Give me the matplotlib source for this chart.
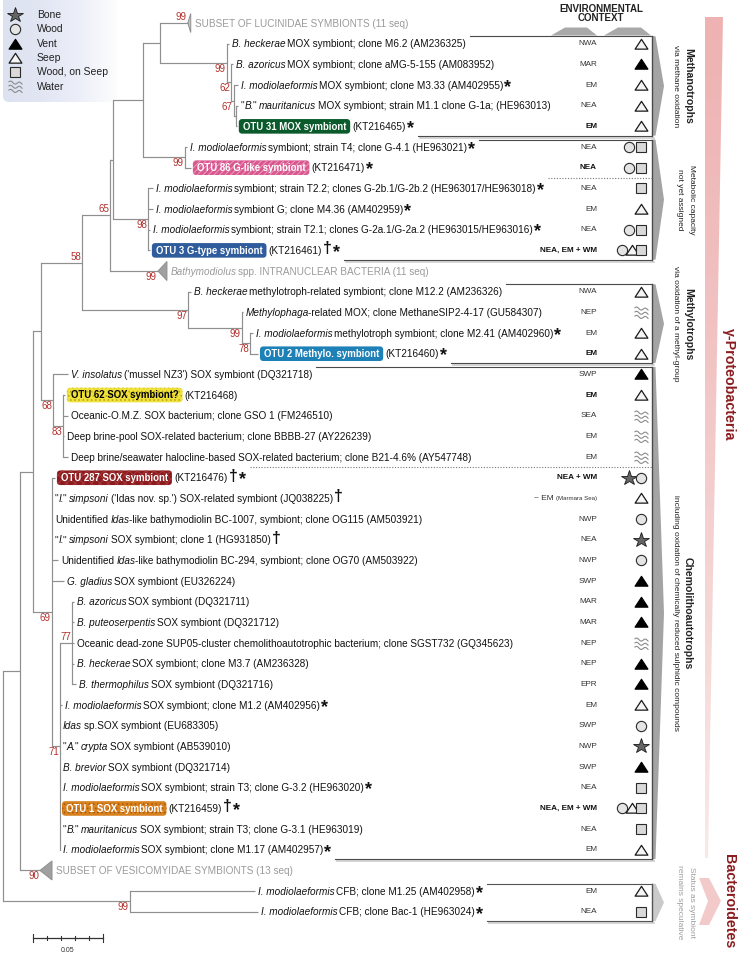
import numpy as np
import matplotlib
matplotlib.use("Agg")
import matplotlib.pyplot as plt
from matplotlib.path import Path
from matplotlib.patches import Polygon, FancyBboxPatch
from matplotlib.colors import LinearSegmentedColormap
from matplotlib.transforms import blended_transform_factory

plt.rcParams['font.family'] = ['Liberation Sans', 'DejaVu Sans']
plt.rcParams['hatch.linewidth'] = 0.7

# ------------------------------------------------------------------ data
leaf_labels = [
    "SUBSET OF LUCINIDAE SYMBIONTS (11 seq)",
    "_B. heckerae_ MOX symbiont; clone M6.2 (AM236325)",
    "_B. azoricus_ MOX symbiont; clone aMG-5-155 (AM083952)",
    "_I. modiolaeformis_ MOX symbiont; clone M3.33 (AM402955)",
    "\"_B._\" _mauritanicus_ MOX symbiont; strain M1.1 clone G-1a; (HE963013)",
    "(KT216465)",
    "_I. modiolaeformis_ symbiont; strain T4; clone G-4.1 (HE963021)",
    "(KT216471)",
    "_I. modiolaeformis_ symbiont; strain T2.2; clones G-2b.1/G-2b.2 (HE963017/HE963018)",
    "_I. modiolaeformis_ symbiont G; clone M4.36 (AM402959)",
    "_I. modiolaeformis_ symbiont; strain T2.1; clones G-2a.1/G-2a.2 (HE963015/HE963016)",
    "(KT216461)",
    "_Bathymodiolus_ spp. INTRANUCLEAR BACTERIA (11 seq)",
    "_B. heckerae_ methylotroph-related symbiont; clone M12.2 (AM236326)",
    "_Methylophaga_-related MOX; clone MethaneSIP2-4-17 (GU584307)",
    "_I. modiolaeformis_ methylotroph symbiont; clone M2.41 (AM402960)",
    "(KT216460)",
    "_V. insolatus_ ('mussel NZ3') SOX symbiont (DQ321718)",
    "(KT216468)",
    "Oceanic-O.M.Z. SOX bacterium; clone GSO 1 (FM246510)",
    "Deep brine-pool SOX-related bacterium; clone BBBB-27 (AY226239)",
    "Deep brine/seawater halocline-based SOX-related bacterium; clone B21-4.6% (AY547748)",
    "(KT216476)",
    "\"_I._\" _simpsoni_ ('Idas nov. sp.') SOX-related symbiont (JQ038225)",
    "Unidentified _Idas_-like bathymodiolin BC-1007, symbiont; clone OG115 (AM503921)",
    "\"_I._\" _simpsoni_ SOX symbiont; clone 1 (HG931850)",
    "Unidentified _Idas_-like bathymodiolin BC-294, symbiont; clone OG70 (AM503922)",
    "_G. gladius_ SOX symbiont (EU326224)",
    "_B. azoricus_ SOX symbiont (DQ321711)",
    "_B. puteoserpentis_ SOX symbiont (DQ321712)",
    "Oceanic dead-zone SUP05-cluster chemolithoautotrophic bacterium; clone SGST732 (GQ345623)",
    "_B. heckerae_ SOX symbiont; clone M3.7 (AM236328)",
    "_B. thermophilus_ SOX symbiont (DQ321716)",
    "_I. modiolaeformis_ SOX symbiont; clone M1.2 (AM402956)",
    "_Idas_ sp.SOX symbiont (EU683305)",
    "\"_A._\" _crypta_ SOX symbiont (AB539010)",
    "_B. brevior_ SOX symbiont (DQ321714)",
    "_I. modiolaeformis_ SOX symbiont; strain T3; clone G-3.2 (HE963020)",
    "(KT216459)",
    "\"_B._\" _mauritanicus_ SOX symbiont; strain T3; clone G-3.1 (HE963019)",
    "_I. modiolaeformis_ SOX symbiont; clone M1.17 (AM402957)",
    "SUBSET OF VESICOMYIDAE SYMBIONTS (13 seq)",
    "_I. modiolaeformis_ CFB; clone M1.25 (AM402958)",
    "_I. modiolaeformis_ CFB; clone Bac-1 (HE963024)",
]

leaf_otu = [None] * 44
leaf_otu[5] = "OTU 31 MOX symbiont"
leaf_otu[7] = "OTU 86 G-like symbiont"
leaf_otu[11] = "OTU 3 G-type symbiont"
leaf_otu[16] = "OTU 2 Methylo. symbiont"
leaf_otu[18] = "OTU 62 SOX symbiont?"
leaf_otu[22] = "OTU 287 SOX symbiont"
leaf_otu[38] = "OTU 1 SOX symbiont"

leaf_marks = ["", "", "", "*", "", "*", "*", "*", "*", "*", "*", "†*", "", "", "", "*",
              "*", "", "", "", "", "", "†*", "†", "", "†", "", "", "", "", "", "", "",
              "*", "", "", "", "*", "†*", "", "*", "", "*", "*"]

leaf_location = ["", "NWA", "MAR", "EM", "NEA", "EM", "NEA", "NEA", "NEA", "EM", "NEA",
                 "NEA, EM + WM", "", "NWA", "NEP", "EM", "EM", "SWP", "EM", "SEA", "EM",
                 "EM", "NEA + WM", "~ EM|(Marmara Sea)", "NWP", "NEA", "NWP", "SWP", "MAR",
                 "MAR", "NEP", "NEP", "EPR", "EM", "SWP", "NWP", "SWP", "NEA",
                 "NEA, EM + WM", "NEA", "EM", "", "EM", "NEA"]

# B bone, W wood, V vent, S seep, Q wood on seep, A water
leaf_env = ["", "S", "V", "S", "S", "S", "WQ", "WQ", "Q", "S", "WQ", "WSQ", "", "S", "A",
            "S", "S", "V", "S", "A", "A", "A", "BW", "S", "W", "B", "W", "V", "V", "V",
            "A", "V", "V", "S", "W", "B", "V", "Q", "WSQ", "Q", "S", "", "S", "Q"]

# depth of collapsed clades (substitutions/site), 0 = single sequence
leaf_collapsed = [0.0] * 44
leaf_collapsed[0] = 0.0021
leaf_collapsed[12] = 0.0064
leaf_collapsed[41] = 0.0086

# ("N", branch length, bootstrap, label above, children) / ("L", leaf, branch length, bootstrap, above)
tree = ("N", 0.0, None, False, [
    ("N", 0.0121, None, False, [
        ("N", 0.0093, None, False, [
            ("N", 0.0057, None, False, [
                ("N", 0.0293, 58, True, [
                    ("N", 0.0200, 65, True, [
                        ("N", 0.0021, None, False, [
                            ("N", 0.0214, None, False, [
                                ("N", 0.0121, None, False, [
                                    ("L", 0, 0.0200, 99, True),
                                    ("N", 0.0479, 99, False, [
                                        ("L", 1, 0.0014, None, False),
                                        ("N", 0.0029, 62, False, [
                                            ("L", 2, 0.0014, None, False),
                                            ("N", 0.0021, 67, False, [
                                                ("L", 3, 0.0029, None, False),
                                                ("N", 0.0014, None, False, [
                                                    ("L", 4, 0.0014, None, False),
                                                    ("L", 5, 0.0007, None, False)])])])])]),
                                ("N", 0.0300, 99, False, [
                                    ("L", 6, 0.0014, None, False),
                                    ("L", 7, 0.0043, None, False)])]),
                            ("N", 0.0250, 98, False, [
                                ("L", 8, 0.0036, None, False),
                                ("L", 9, 0.0036, None, False),
                                ("L", 10, 0.0014, None, False),
                                ("L", 11, 0.0014, None, False)])]),
                        ("L", 12, 0.0343, 99, False)]),
                    ("N", 0.0757, 97, False, [
                        ("L", 13, 0.0021, None, False),
                        ("N", 0.0386, 99, False, [
                            ("L", 14, 0.0007, None, False),
                            ("N", 0.0057, 78, False, [
                                ("L", 15, 0.0021, None, False),
                                ("L", 16, 0.0057, None, False)])])])]),
                ("N", 0.0086, 68, False, [
                    ("L", 17, 0.0107, None, False),
                    ("N", 0.0071, 83, False, [
                        ("L", 18, 0.0014, None, False),
                        ("L", 19, 0.0036, None, False),
                        ("L", 20, 0.0007, None, False),
                        ("L", 21, 0.0036, None, False)])])]),
            ("N", 0.0136, 69, False, [
                ("L", 22, 0.0021, None, False),
                ("L", 23, 0.0, None, False),
                ("L", 24, 0.0, None, False),
                ("L", 25, 0.0, None, False),
                ("L", 26, 0.0043, None, False),
                ("L", 27, 0.0086, None, False),
                ("N", 0.0057, 71, False, [
                    ("N", 0.0086, 77, True, [
                        ("L", 28, 0.0014, None, False),
                        ("L", 29, 0.0014, None, False),
                        ("L", 30, 0.0014, None, False),
                        ("L", 31, 0.0014, None, False),
                        ("L", 32, 0.0029, None, False)]),
                    ("L", 33, 0.0014, None, False),
                    ("L", 34, 0.0, None, False),
                    ("L", 35, 0.0, None, False),
                    ("L", 36, 0.0, None, False),
                    ("L", 37, 0.0, None, False),
                    ("L", 38, 0.0, None, False),
                    ("L", 39, 0.0, None, False),
                    ("L", 40, 0.0, None, False)])])]),
        ("L", 41, 0.0143, 90, False)]),
    ("N", 0.0907, 99, False, [
        ("L", 42, 0.0893, None, False),
        ("L", 43, 0.0914, None, False)])])

groups = [  # title, subtitle, first row, last row, dotted separator before row
    ("Methanotrophs", "via methane oxidation", 1, 5, None),
    ("Metabolic capacity", "not yet assigned", 6, 11, 8),
    ("Methylotrophs", "via oxidation of a methyl-group", 13, 16, None),
    ("Chemolithoautotrophs", "including oxidation of chemically reduced sulphidic compounds", 17, 40, 22),
    ("Status as symbiont", "remains speculative", 42, 43, None),
]
phyla = [("γ-Proteobacteria", 0, 40), ("Bacteroidetes", 42, 43)]
legend_labels = ["Bone", "Wood", "Vent", "Seep", "Wood, on Seep", "Water"]
legend_codes = ["B", "W", "V", "S", "Q", "A"]
scale_value = 0.05

# ------------------------------------------------------------------ styles
otu_style = {
    5: ('#0b5a2c', '#0b5a2c', None, 'white'),
    7: ('#d8578f', '#ec9cbf', '//////', 'white'),
    11: ('#2f5c9c', '#2f5c9c', None, 'white'),
    16: ('#1d80b6', '#1d80b6', None, 'white'),
    18: ('#f0e23a', '#b9a91c', '....', 'black'),
    22: ('#8a1b1e', '#a8373a', 'xxxx', 'white'),
    38: ('#d8811f', '#a95a0c', '....', 'white'),
}
tri_path = Path([(0, 0.5), (-0.62, -0.45), (0.62, -0.45), (0, 0.5)], [1, 2, 2, 79])
_wv, _wc = [], []
_t = np.linspace(0, 1, 24)
for k in range(3):
    xs = -0.5 + _t
    ys = 0.32 - 0.3 * k + 0.09 * np.sin(2 * np.pi * 1.6 * _t) - 0.12 * _t
    for j, (a, b) in enumerate(zip(xs, ys)):
        _wv.append((a, b))
        _wc.append(1 if j == 0 else 2)
water_path = Path(_wv, _wc)
env_style = {
    'S': dict(marker=tri_path, ms=9.2, mfc='#f4f4f4', mec='#1a1a1a', mew=0.9),
    'V': dict(marker=tri_path, ms=9.2, mfc='#000000', mec='#000000', mew=0.9),
    'W': dict(marker='o', ms=7.4, mfc='#e4e4e4', mec='#2a2a2a', mew=0.8),
    'Q': dict(marker='s', ms=6.9, mfc='#d9d9d9', mec='#2a2a2a', mew=0.8),
    'B': dict(marker='*', ms=11.5, mfc='#656565', mec='#1a1a1a', mew=0.6),
    'A': dict(marker=water_path, ms=10, mfc='none', mec='#8a8a8a', mew=0.8),
}

# ------------------------------------------------------------------ figure
W, H, DPI = 740, 955, 100
fig = plt.figure(figsize=(W / DPI, H / DPI), dpi=DPI)
fig.patch.set_facecolor('white')
axp = fig.add_axes([0, 0, 1, 1])
axp.set_xlim(0, W); axp.set_ylim(H, 0); axp.axis('off')
ax = fig.add_axes([0, 0, 1, 1])
ax.axis('off'); ax.patch.set_alpha(0)
PXU = 1400.0     # pixels per substitution/site
X0 = 3.0
ROW0, ROWH = 23.0, 20.67
ax.set_xlim(-X0 / PXU, (W - X0) / PXU)
ax.set_ylim((H - ROW0) / ROWH, -ROW0 / ROWH)
renderer = fig.canvas.get_renderer()
tr = blended_transform_factory(axp.transData, ax.transData)

def disp(x, y):
    return ax.transData.transform((x, y))

def kw_for(style):
    d = {}
    if 'i' in style:
        d['style'] = 'italic'
    if 'b' in style:
        d['weight'] = 'bold'
    return d

_space = {}
def space_w(style, fs):
    key = (style, fs)
    if key not in _space:
        t1 = axp.text(0, 0, 'a a', fontsize=fs, **kw_for(style))
        t2 = axp.text(0, 0, 'aa', fontsize=fs, **kw_for(style))
        _space[key] = t1.get_window_extent(renderer).width - t2.get_window_extent(renderer).width
        t1.remove(); t2.remove()
    return _space[key]

def parse(s):
    return [(p, 'i' if k % 2 else '') for k, p in enumerate(s.split('_')) if p]

def put_segments(xy, segs, off, fs, color, dy=-3.6):
    for text, st in segs:
        lead = len(text) - len(text.lstrip(' '))
        trail = len(text) - len(text.rstrip(' '))
        core = text.strip(' ')
        off += lead * space_w(st, fs)
        if core:
            t = ax.annotate(core, xy=xy, xytext=(off, dy), textcoords='offset pixels',
                            ha='left', va='baseline', fontsize=fs, color=color,
                            annotation_clip=False, **kw_for(st))
            off += t.get_window_extent(renderer).width
            if 'i' in st:
                off -= 1.2
        off += trail * space_w(st, fs)
    return off

# ------------------------------------------------------------------ backgrounds
leg_box = FancyBboxPatch((3, -6), 114, 108, boxstyle='round,pad=0,rounding_size=6',
                         transform=axp.transData, fc='none', ec='none')
axp.add_patch(leg_box)
lg = LinearSegmentedColormap.from_list('lg', ['#dde2f0', '#e2e6f3', '#eceff8', '#fdfdfe'])
im = axp.imshow(np.linspace(0, 1, 256).reshape(1, -1), extent=(3, 117, 102, -6), cmap=lg,
                aspect='auto', zorder=0.5)
im.set_clip_path(leg_box)

wedge = Polygon([(705, 17), (723, 17), (708, 858), (705, 858)], closed=True,
                transform=axp.transData, fc='none', ec='none')
axp.add_patch(wedge)
pk = LinearSegmentedColormap.from_list('pk', ['#eeb2b2', '#f1c0c0', '#f5d4d4', '#fae8e8'])
im2 = axp.imshow(np.linspace(0, 1, 256).reshape(-1, 1), extent=(705, 723, 858, 17), cmap=pk,
                 aspect='auto', zorder=0.5)
im2.set_clip_path(wedge)
axp.add_patch(Polygon([(699, 878), (709, 878), (721, 901), (709, 925), (699, 925), (708, 901)],
                      closed=True, fc='#f3caca', ec='none', zorder=0.6))
axp.set_xlim(0, W); axp.set_ylim(H, 0)

# ------------------------------------------------------------------ tree
nodes = []
def layout(node, xp):
    if node[0] == 'L':
        _, idx, bl, sup, above = node
        rec = dict(kind='L', idx=idx, x=xp + bl, y=float(idx), xp=xp, sup=sup, above=above)
        nodes.append(rec)
        return rec
    _, bl, sup, above, children = node
    x = xp + bl
    kids = [layout(c, x) for c in children]
    rec = dict(kind='N', x=x, y=(kids[0]['y'] + kids[-1]['y']) / 2, xp=xp, sup=sup,
               above=above, kids=kids)
    nodes.append(rec)
    return rec

root = layout(tree, 0.0)
LC = '#8f8f8f'
for n in nodes:
    if n['x'] > n['xp']:
        ax.plot([n['xp'], n['x']], [n['y'], n['y']], color=LC, lw=0.85, solid_capstyle='butt')
    if n['kind'] == 'N':
        ax.plot([n['x'], n['x']], [n['kids'][0]['y'], n['kids'][-1]['y']], color=LC, lw=0.85)
    if n['sup'] is not None:
        ax.annotate(str(n['sup']), xy=(n['x'], n['y']), xytext=(-1, 1 if n['above'] else -1),
                    textcoords='offset pixels', ha='right',
                    va='bottom' if n['above'] else 'top', fontsize=7, color='#b3302c')

row_end = {}
for n in nodes:
    if n['kind'] != 'L':
        continue
    i = n['idx']
    dep = leaf_collapsed[i]
    if dep > 0:
        fc = '#c4c4c4' if i == 0 else '#a0a0a0'
        ax.add_patch(Polygon([(n['x'], n['y']), (n['x'] + dep, n['y'] - 0.46),
                              (n['x'] + dep, n['y'] + 0.46)], closed=True, fc=fc, ec='#8f8f8f',
                             lw=0.7))
        xy = (n['x'] + dep, n['y'])
        end = put_segments(xy, parse(leaf_labels[i]), 4, 7.2, '#9a9a9a')
        row_end[i] = disp(*xy)[0] + end
        continue
    xy = (n['x'], n['y'])
    off = 3
    if leaf_otu[i] is not None:
        fcol, hcol, hatch, tcol = otu_style[i]
        t = ax.annotate(leaf_otu[i], xy=xy, xytext=(off + 3.5, -3.4), textcoords='offset pixels',
                        ha='left', va='baseline', fontsize=6.9, weight='bold', color=tcol,
                        zorder=5)
        bb = t.get_window_extent(renderer)
        x0 = disp(*xy)[0] + off - 1
        yc = H - disp(*xy)[1]
        wbox = bb.width + 8
        axp.add_patch(FancyBboxPatch((x0, yc - 7.3), wbox, 14.6,
                                     boxstyle='round,pad=0,rounding_size=3.5', fc=fcol,
                                     ec='none', lw=0, zorder=2))
        if hatch:
            axp.add_patch(FancyBboxPatch((x0, yc - 7.3), wbox, 14.6,
                                         boxstyle='round,pad=0,rounding_size=3.5', fc='none',
                                         ec=hcol, lw=0, hatch=hatch, zorder=2.1))
        off = off - 1 + wbox + 2
    off = put_segments(xy, parse(leaf_labels[i]), off, 7.2, '#111111')
    mk = leaf_marks[i]
    if '†' in mk:
        t = ax.annotate('†', xy=xy, xytext=(off + 1.5, -2.8), textcoords='offset pixels',
                        ha='left', va='baseline', fontsize=11.5, weight='bold', color='#111')
        off += 1.5 + t.get_window_extent(renderer).width
    if '*' in mk:
        t = ax.annotate('*', xy=xy, xytext=(off + 1.0, -6.8), textcoords='offset pixels',
                        ha='left', va='baseline', fontsize=13, weight='bold', color='#111')
        off += 1.0 + t.get_window_extent(renderer).width
    row_end[i] = disp(*xy)[0] + off

# ------------------------------------------------------------------ environmental context
LOCX, SYMX, BOXR = 597, 641, 652
for i, loc in enumerate(leaf_location):
    if not loc:
        continue
    bold = leaf_otu[i] is not None
    parts = loc.split('|')
    if len(parts) == 2:
        t = ax.text(LOCX, i, parts[1], transform=tr, ha='right', va='center', fontsize=4.4,
                    color='#333')
        w = t.get_window_extent(renderer).width
        ax.text(LOCX - w - 2, i, parts[0], transform=tr, ha='right', va='center', fontsize=6.0,
                color='#333')
    else:
        ax.text(LOCX, i, loc, transform=tr, ha='right', va='center', fontsize=5.9,
                color='#111' if bold else '#333', weight='bold' if bold else 'normal')
for i, codes in enumerate(leaf_env):
    nsym = len(codes)
    step = 12 if nsym == 2 else 9.5
    for k, c in enumerate(codes):
        xx = SYMX - (nsym - 1 - k) * step
        ax.plot([xx], [i], transform=tr, ls='none', zorder=6, **env_style[c])

axp.text(601, 9.5, "ENVIRONMENTAL", ha='center', va='center', fontsize=7, weight='bold',
         color='#222')
axp.text(601, 18, "CONTEXT", ha='center', va='center', fontsize=7, weight='bold', color='#222')
for a, b in [(551, 597), (604, 651)]:
    axp.add_patch(Polygon([(a, 35.5), (a + 14, 27.5), (b - 10, 27.5), (b, 35.5)], closed=True,
                          fc='#a9a9a9', ec='none'))

for gi, (title, sub, r0, r1, dotted) in enumerate(groups):
    top = r0 - 0.36
    bot = r1 + 0.45
    ec = '#4a4a4a' if gi < 4 else '#555555'
    ax.plot([row_end[r0] + 4, BOXR], [top, top], transform=tr, color=ec, lw=0.8)
    ax.plot([row_end[r1] + 6, BOXR + 2], [bot + 0.1, bot + 0.1], transform=tr, color='#d2d2d2',
            lw=1.3)
    ax.plot([row_end[r1] + 4, BOXR], [bot, bot], transform=tr, color=ec, lw=0.8)
    ax.plot([BOXR, BOXR], [top, bot], transform=tr, color=ec, lw=1.0)
    if dotted is not None:
        yd = dotted - 0.5
        ax.plot([row_end[dotted] + 4, BOXR], [yd, yd], transform=tr, color='#777', lw=0.8,
                ls=(0, (1, 1.5)))
    mid = (r0 + r1) / 2 + 0.05
    shade = '#a4a4a4' if gi < 4 else '#cacaca'
    ax.add_patch(Polygon([(BOXR + 0.5, top), (BOXR + 3.5, top), (BOXR + 12, mid),
                          (BOXR + 3.5, bot), (BOXR + 0.5, bot)], closed=True, transform=tr,
                         fc=shade, ec='none'))
    tcol = '#9e9e9e' if gi == 4 else '#222'
    tw = 'bold' if gi in (0, 2, 3) else 'normal'
    tfs = 7.6 if tw == 'bold' else 6.0
    xt, xs = (688, 676) if tw == 'bold' else (691, 680)
    ax.text(xt, mid, title, transform=tr, rotation=-90, ha='center', va='center', fontsize=tfs,
            weight=tw, color=tcol)
    ax.text(xs, mid, sub, transform=tr, rotation=-90, ha='center', va='center', fontsize=6.0,
            color=tcol)

for name, r0, r1 in phyla:
    ax.text(729, (r0 + r1) / 2 if r1 - r0 < 5 else 17.5, name, transform=tr, rotation=-90,
            ha='center', va='center', fontsize=10.3, weight='bold', color='#8b1c1f')

for k, (lab, code) in enumerate(zip(legend_labels, legend_codes)):
    yy = 15 + k * 14.3
    axp.plot([15], [yy], ls='none', **env_style[code])
    axp.text(37, yy, lab, ha='left', va='center', fontsize=7.5, color='#222')

sx0 = 30 / PXU
sy = (938 - ROW0) / ROWH
ax.plot([sx0, sx0 + scale_value], [sy, sy], color='#333', lw=0.9)
for k in range(6):
    xx = sx0 + scale_value * k / 5
    hh = 0.17 if k in (0, 5) else 0.08
    ax.plot([xx, xx], [sy - hh, sy + hh], color='#333', lw=0.8)
ax.text(sx0 + scale_value / 2, sy + 0.62, f"{scale_value:.2f}", ha='center', va='center',
        fontsize=5, color='#333')

axp.set_xlim(0, W); axp.set_ylim(H, 0)
fig.savefig('out.png', dpi=DPI, facecolor='white')
